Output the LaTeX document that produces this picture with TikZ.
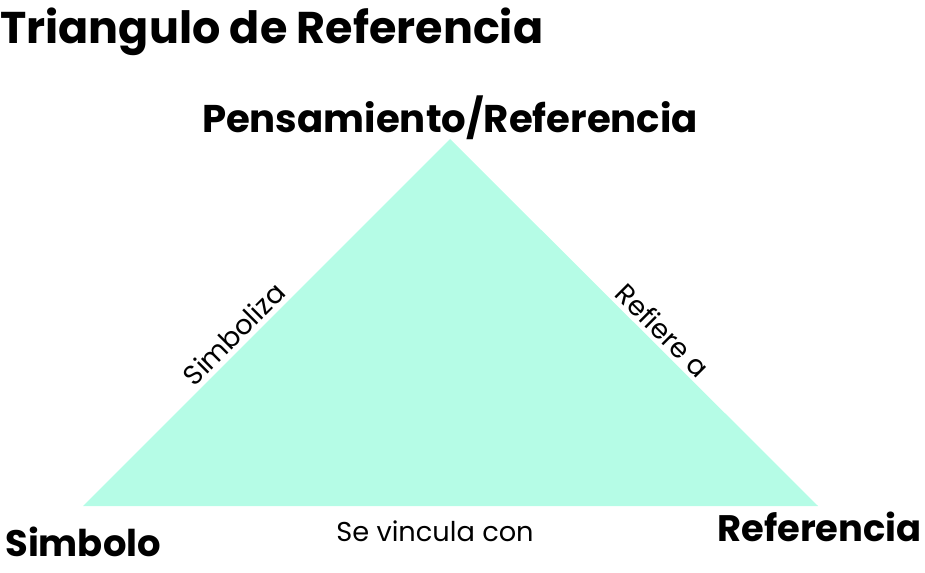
\documentclass[tikz,border=0pt]{standalone}
\usepackage{fontspec}
\setmainfont{Poppins}
\usepackage{tikz}
\usetikzlibrary{positioning}

\definecolor{menta}{HTML}{B5FCE6}

\begin{document}
\begin{tikzpicture}[
  x=0.02cm, y=-0.02cm,
  titulo/.style={font=\bfseries\fontsize{25.3}{30}\selectfont, inner sep=0pt},
  vertice/.style={font=\bfseries\fontsize{22}{26}\selectfont, inner sep=0pt},
  esquina/.style={font=\bfseries\fontsize{21}{24}\selectfont, inner sep=0pt},
  rotulo/.style={font=\fontsize{15.5}{18}\selectfont, inner sep=2.5pt}
]
\useasboundingbox (0,0) rectangle (925,572);

% vertices del triangulo
\coordinate (apex) at (450,139);
\coordinate (izq) at (83,506);
\coordinate (der) at (818,506);

\fill[menta] (izq) -- (apex) -- (der) -- cycle;

\node[titulo, anchor=base west] (tit) at (0,43) {Triangulo de Referencia};
\node[vertice, anchor=base] (pens) at (450,132) {Pensamiento/Referencia};
\node[esquina, anchor=base west] (simb) at (5,556) {Simbolo};
\node[esquina, anchor=base east] (ref) at (922,541) {Referencia};

% rotulos de los lados
\path (izq) -- node[rotulo, sloped, above, pos=0.44] (simboliza) {Simboliza} (apex);
\path (apex) -- node[rotulo, sloped, above, pos=0.55] (refiere) {Refiere a} (der);
\node[rotulo, anchor=base] (vinc) at (435,541) {Se vincula con};

\end{tikzpicture}
\end{document}
